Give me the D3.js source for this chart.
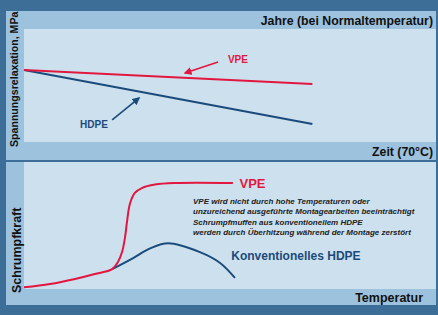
<!DOCTYPE html>
<html><head><meta charset="utf-8">
<script src="https://cdn.jsdelivr.net/npm/d3@7/dist/d3.min.js"></script>
<style>html,body{margin:0;padding:0;background:#3c6e98;}svg{display:block;}text{font-family:"Liberation Sans",Arial,sans-serif;font-weight:bold;}</style>
</head><body><svg id="c" width="438" height="315"></svg>
<script>
// Panel 1: stress relaxation over time (relative units 0..100)
const relaxX = [0, 70];
const relaxVPE = [63.7, 51.3];
const relaxHDPE = [63.7, 16];
const relaxArrowVPE = [[47.1, 70.8], [39.1, 61.1]];
const relaxArrowHDPE = [[21.4, 19.5], [27.9, 38.9]];
// Panel 2: shrink force vs temperature (relative units 0..100)
const shrinkVPEX = [0, 6.3, 12.4, 17.2, 21.4, 22.8, 23.8, 24.5, 25, 25.7, 26.9, 28.6, 31.8, 36.7, 50.7];
const shrinkVPEY = [1.3, 3.9, 7.9, 11.8, 15.7, 21.3, 29.1, 40.2, 52.8, 66.9, 75.6, 79.5, 82.3, 83.5, 83.5];
const shrinkHDPEX = [21.4, 26.5, 30.6, 35, 42.7, 47.6, 51.2];
const shrinkHDPEY = [15.7, 24.4, 32, 36, 29, 20.5, 8.7];
const labels1 = {top: "Jahre (bei Normaltemperatur)", bottom: "Zeit (70°C)", y: "Spannungsrelaxation, MPa", vpe: "VPE", hdpe: "HDPE"};
const labels2 = {bottom: "Temperatur", y: "Schrumpfkraft", vpe: "VPE", hdpe: "Konventionelles HDPE"};
const note = ["VPE wird nicht durch hohe Temperaturen oder",
  "unzureichend ausgeführte Montagearbeiten beeinträchtigt",
  "Schrumpfmuffen aus konventionellem HDPE",
  "werden durch Überhitzung während der Montage zerstört"];

const RED = "#e2173f", BLUE = "#1b4b7b", MID = "#9cc2de", LIGHT = "#cde0ee", DARK = "#3c6e98";
const svg = d3.select("#c");
svg.append("rect").attr("width",438).attr("height",315).attr("fill",DARK);
const defs = svg.append("defs");
[["aR",RED],["aB",BLUE]].forEach(([id,col])=>{
  defs.append("marker").attr("id",id).attr("viewBox","0 0 10 10").attr("refX",8).attr("refY",5)
    .attr("markerWidth",5).attr("markerHeight",5).attr("orient","auto-start-reverse").attr("markerUnits","strokeWidth")
    .append("path").attr("d","M0,0 L10,5 L0,10 z").attr("fill",col);
});

// Panel 1
svg.append("rect").attr("x",6).attr("y",11).attr("width",430).attr("height",149).attr("fill",MID);
svg.append("rect").attr("x",24).attr("y",29).attr("width",412).attr("height",113).attr("fill",LIGHT);
const x1 = d3.scaleLinear().domain([0,100]).range([24,436]);
const y1 = d3.scaleLinear().domain([0,100]).range([142,29]);
const line1 = d3.line().x(d=>x1(d[0])).y(d=>y1(d[1]));
svg.append("path").attr("d",line1(relaxX.map((x,i)=>[x,relaxHDPE[i]]))).attr("stroke",BLUE).attr("stroke-width",2).attr("fill","none");
svg.append("path").attr("d",line1(relaxX.map((x,i)=>[x,relaxVPE[i]]))).attr("stroke",RED).attr("stroke-width",2).attr("fill","none");
svg.append("path").attr("d",line1(relaxArrowVPE)).attr("stroke",RED).attr("stroke-width",1.6).attr("fill","none").attr("marker-end","url(#aR)");
svg.append("path").attr("d",line1(relaxArrowHDPE)).attr("stroke",BLUE).attr("stroke-width",1.6).attr("fill","none").attr("marker-end","url(#aB)");
svg.append("text").attr("x",x1(49.5)).attr("y",y1(69.5)).attr("font-size",10).attr("fill",RED).text(labels1.vpe);
svg.append("text").attr("x",x1(13.6)).attr("y",y1(12.5)).attr("font-size",10).attr("fill",BLUE).text(labels1.hdpe);
svg.append("text").attr("x",433).attr("y",25).attr("text-anchor","end").attr("font-size",12.3).attr("fill","#111").text(labels1.top);
svg.append("text").attr("x",433).attr("y",156).attr("text-anchor","end").attr("font-size",12.3).attr("fill","#111").text(labels1.bottom);
svg.append("text").attr("transform","translate(18,147) rotate(-90)").attr("font-size",10.6).attr("fill","#111").text(labels1.y);

// Panel 2
svg.append("rect").attr("x",6).attr("y",162).attr("width",430).attr("height",143).attr("fill",MID);
svg.append("rect").attr("x",24).attr("y",162).attr("width",412).attr("height",127).attr("fill",LIGHT);
const x2 = d3.scaleLinear().domain([0,100]).range([24,436]);
const y2 = d3.scaleLinear().domain([0,100]).range([289,162]);
const curve = d3.line().x(d=>x2(d[0])).y(d=>y2(d[1])).curve(d3.curveCatmullRom.alpha(0.5));
svg.append("path").attr("d",curve(shrinkHDPEX.map((x,i)=>[x,shrinkHDPEY[i]]))).attr("stroke",BLUE).attr("stroke-width",2).attr("fill","none");
svg.append("path").attr("d",curve(shrinkVPEX.map((x,i)=>[x,shrinkVPEY[i]]))).attr("stroke",RED).attr("stroke-width",2).attr("fill","none");
svg.append("text").attr("x",x2(52.3)).attr("y",y2(79.5)).attr("font-size",13).attr("fill",RED).text(labels2.vpe);
svg.append("text").attr("x",x2(50.3)).attr("y",y2(22.5)).attr("font-size",12).attr("fill",BLUE).text(labels2.hdpe);
const nt = svg.append("g").attr("font-size",8).attr("font-style","italic").attr("fill","#222");
note.forEach((s,i)=>nt.append("text").attr("x",193).attr("y",204+i*10.3).text(s));
svg.append("text").attr("x",423).attr("y",302).attr("text-anchor","end").attr("font-size",12.5).attr("fill","#111").text(labels2.bottom);
svg.append("text").attr("transform","translate(21,293) rotate(-90)").attr("font-size",12.5).attr("fill","#111").text(labels2.y);
</script></body></html>
